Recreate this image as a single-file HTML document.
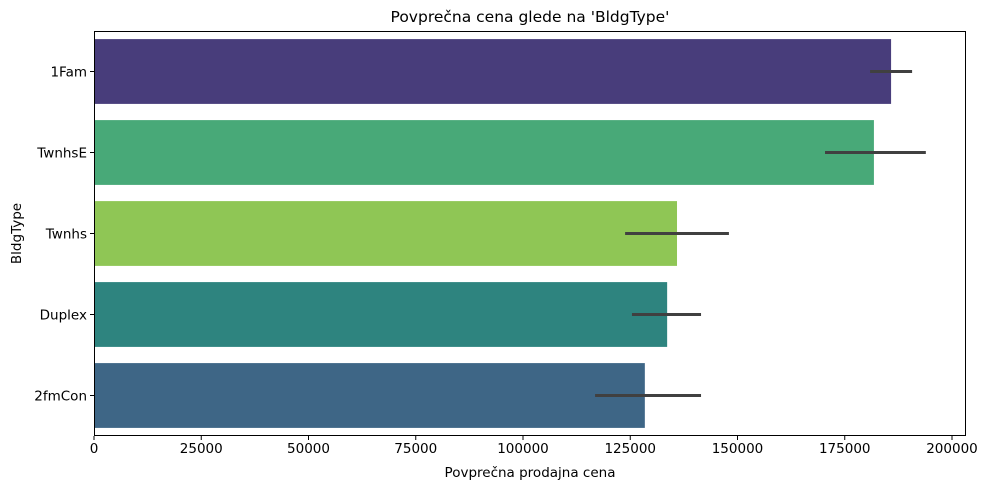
<!DOCTYPE html>
<html><head><meta charset="utf-8"><style>
body{margin:0;background:#fff;}
svg{font-family:"DejaVu Sans","Liberation Sans",sans-serif;}
</style></head><body>
<svg id="chart" width="988" height="490" xmlns="http://www.w3.org/2000/svg"></svg>
<script>
const categories=["1Fam","TwnhsE","Twnhs","Duplex","2fmCon"];
const means=[185800,181800,135900,133600,128400];
const ciLow=[180900,170400,123800,125400,116800];
const ciHigh=[190700,193900,148000,141500,141500];
const colors=["#483d7b","#48a978","#8fc655","#2e847f","#3e6686"];
const xTicks=[0,25000,50000,75000,100000,125000,150000,175000,200000];

const NS="http://www.w3.org/2000/svg";
const svg=document.getElementById('chart');
const L=94,R=966,T=31,B=436;
const x=v=>L+v/200000*858;
const band=(B-T)/categories.length;
const y=i=>T+band*i+band/2;
function mk(tag,attrs,txt){const e=document.createElementNS(NS,tag);for(const k in attrs)e.setAttribute(k,attrs[k]);if(txt!==undefined)e.textContent=txt;svg.appendChild(e);return e;}

categories.forEach((c,i)=>{
  const r=mk('rect',{x:L,y:y(i)-band*0.4,width:x(means[i])-L,height:band*0.8,fill:colors[i]});
  
  
  const eb=mk('line',{x1:x(ciLow[i]),x2:x(ciHigh[i]),y1:y(i),y2:y(i),stroke:'#404040','stroke-width':3});
  
  
  const tk=mk('line',{x1:L-4,x2:L,y1:y(i),y2:y(i),stroke:'#000','stroke-width':1});
  
  
  const t=mk('text',{x:L-7,y:y(i)+5,'text-anchor':'end','font-size':13.5},c);
  
  
});
xTicks.forEach(v=>{
  const tk=mk('line',{x1:x(v),x2:x(v),y1:B,y2:B+4,stroke:'#000','stroke-width':1});
  
  
  const t=mk('text',{x:x(v),y:B+17,'text-anchor':'middle','font-size':13.5},String(v));
  
  
});
const frame=mk('rect',{x:L+0.5,y:T+0.5,width:R-L-1,height:B-T-1,fill:'none',stroke:'#000','stroke-width':1});


const title=mk('text',{x:(L+R)/2,y:22,'text-anchor':'middle','font-size':15.5},"Povprečna cena glede na 'BldgType'");


const xt=mk('text',{x:(L+R)/2,y:477,'text-anchor':'middle','font-size':13.5},"Povprečna prodajna cena");


const yt=mk('text',{x:21,y:(T+B)/2,'text-anchor':'middle','font-size':13.5,transform:`rotate(-90 21 ${(T+B)/2})`},"BldgType");


</script>
</body></html>
